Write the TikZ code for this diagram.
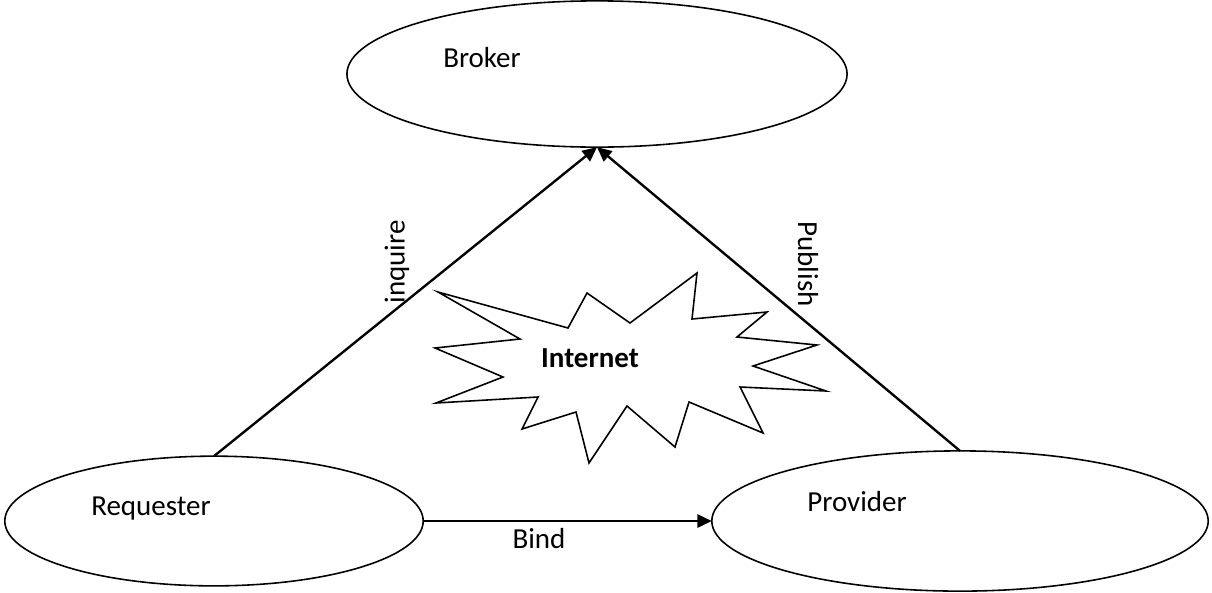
\documentclass[tikz,border=0pt]{standalone}
\usepackage{fontspec}
\setmainfont{Carlito}
\usepackage{tikz}
\usetikzlibrary{positioning}
\usetikzlibrary{arrows.meta}
\usetikzlibrary{shapes.geometric}

\begin{document}
\begin{tikzpicture}[x=0.01334cm,y=-0.01334cm,
	font=\fontsize{11}{13}\selectfont,
	role/.style={ellipse,draw,line width=0.6pt,inner sep=0pt,outer sep=0pt},
	link/.style={-{Triangle[length=5.5pt,width=5pt]},line width=0.9pt}]

	\useasboundingbox (0,0) rectangle (1212,592);

	% the three parties
	\node (broker) [role,minimum width=6.67cm,minimum height=1.95cm] at (597,74) {};
	\node (requester) [role,minimum width=5.58cm,minimum height=1.73cm] at (214,521) {};
	\node (provider) [role,minimum width=6.62cm,minimum height=1.87cm] at (960,521) {};

	\node (brokerTxt) at (482,58) {Broker};
	\node (requesterTxt) at (151,509) {Requester};
	\node (providerTxt) at (857,502) {Provider};

	% internet cloud
	\draw [line width=0.6pt] plot coordinates {
		(438,292) (568,328) (587,293) (630,323) (697,273) (692,319)
		(767,312) (737,337) (817,345) (753,366) (826,391) (740,387)
		(763,433) (689,402) (675,447) (627,406) (589,463) (576,412)
		(522,429) (538,397) (436,403) (503,377) (435,348) (520,339)} -- cycle;
	\node (internet) at (590,358) {\bfseries Internet};

	% messages
	\draw [link] (requester.north) -- (broker.south);
	\draw [link] (provider.north) -- (broker.south);
	\draw [link] (requester.east) -- (provider.west);

	\node (inquire) [rotate=90] at (397,262) {inquire};
	\node (publish) [rotate=-90] at (808,264) {Publish};
	\node (bind) at (539,539) {Bind};
\end{tikzpicture}
\end{document}
